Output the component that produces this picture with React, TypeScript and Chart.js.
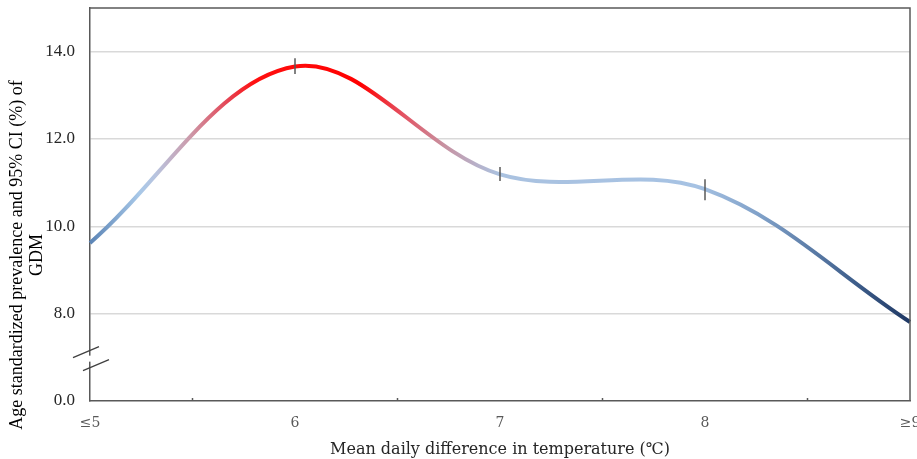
import React, { useEffect, useRef } from 'react';
import { Chart, registerables } from 'chart.js';

Chart.register(...registerables);

// ---- data ----
const categories = ['≤5', '6', '7', '8', '≥9'];
const prevalence = [9.62, 13.66, 11.19, 10.85, 7.81];
const ciLower: (number | null)[] = [null, 13.49, 11.04, 10.6, null];
const ciUpper: (number | null)[] = [null, 13.85, 11.36, 11.08, null];
// The y axis is broken: the bottom tick (internal value 6) is shown as 0.0
const yTickValues = [6, 8, 10, 12, 14];
const yTickLabels = ['0.0', '8.0', '10.0', '12.0', '14.0'];
const yMin = 6;
const yMax = 15;
const breakValue = 6.97;
const midTickValues = [0.5, 1.5, 2.5, 3.5];
const yTitleLines = ['Age standardized prevalence and 95% CI (%) of', 'GDM'];
const xTitle = 'Mean daily difference in temperature (℃)';

// ---- style ----
const gradientStops: [number, string][] = [
  [0, '#5b84b5'],
  [0.06, '#a8c8e8'],
  [0.08, '#b8c4df'],
  [0.122, '#cc9aaa'],
  [0.17, '#e64050'],
  [0.2, '#ff1010'],
  [0.33, '#ff0000'],
  [0.38, '#e45060'],
  [0.43, '#c8909f'],
  [0.47, '#b8b0c8'],
  [0.5, '#aac2e0'],
  [0.74, '#a6c2e3'],
  [0.82, '#7e9fc7'],
  [0.93, '#3f5f8c'],
  [1, '#1f3864'],
];
const axisColor = '#595959';
const serif = "'Liberation Serif', 'Times New Roman', serif";
const wideSerif = "'DejaVu Serif', serif";

const decorPlugin = {
  id: 'decor',
  afterDatasetsDraw(chart: any) {
    const { ctx, scales } = chart;
    const x = scales.x;
    const y = scales.y;
    ctx.save();
    ctx.strokeStyle = axisColor;
    ctx.lineWidth = 1.5;
    ciLower.forEach((lo, i) => {
      const hi = ciUpper[i];
      if (lo == null || hi == null) return;
      const px = x.getPixelForValue(i);
      ctx.beginPath();
      ctx.moveTo(px, y.getPixelForValue(lo));
      ctx.lineTo(px, y.getPixelForValue(hi));
      ctx.stroke();
    });
    ctx.restore();
  },
  afterDraw(chart: any) {
    const { ctx, chartArea, scales } = chart;
    const x = scales.x;
    const y = scales.y;
    ctx.save();
    ctx.strokeStyle = axisColor;
    ctx.lineWidth = 1.5;
    // top and right border
    ctx.beginPath();
    ctx.moveTo(chartArea.left, chartArea.top);
    ctx.lineTo(chartArea.right, chartArea.top);
    ctx.lineTo(chartArea.right, chartArea.bottom);
    ctx.stroke();
    // small inward ticks between categories
    midTickValues.forEach((v) => {
      const px = x.getPixelForValue(v);
      ctx.beginPath();
      ctx.moveTo(px, chartArea.bottom);
      ctx.lineTo(px, chartArea.bottom - 3);
      ctx.stroke();
    });
    // axis break
    const by = y.getPixelForValue(breakValue);
    const ax = chartArea.left;
    ctx.fillStyle = '#ffffff';
    ctx.fillRect(ax - 3, by - 3, 6, 6);
    ctx.strokeStyle = '#404040';
    ctx.lineWidth = 1.3;
    ctx.beginPath();
    ctx.moveTo(ax - 17, by - 1);
    ctx.lineTo(ax + 9, by - 12);
    ctx.moveTo(ax - 7, by + 12);
    ctx.lineTo(ax + 19, by + 1);
    ctx.stroke();
    // y axis title (two centred lines, rotated)
    ctx.fillStyle = '#000000';
    ctx.font = `18px ${serif}`;
    ctx.textAlign = 'center';
    ctx.textBaseline = 'middle';
    ctx.translate(27, 255);
    ctx.rotate(-Math.PI / 2);
    yTitleLines.forEach((line, i) => {
      ctx.fillText(line, 0, (i - (yTitleLines.length - 1) / 2) * 20);
    });
    ctx.restore();
  },
};

export default function App() {
  const canvasRef = useRef<HTMLCanvasElement | null>(null);

  useEffect(() => {
    const canvas = canvasRef.current;
    if (!canvas) return;
    const chart = new Chart(canvas, {
      type: 'line',
      data: {
        labels: categories,
        datasets: [
          {
            data: prevalence,
            borderWidth: 4,
            pointRadius: 0,
            tension: 0.35,
            fill: false,
            borderColor: (c: any) => {
              const area = c.chart.chartArea;
              if (!area) return '#a9c5e6';
              const g = c.chart.ctx.createLinearGradient(area.left, 0, area.right, 0);
              gradientStops.forEach(([o, col]) => g.addColorStop(o, col));
              return g;
            },
          },
        ],
      },
      options: {
        responsive: false,
        animation: false,
        devicePixelRatio: 1,
        layout: { autoPadding: false, padding: { top: 8, right: 7, left: 0, bottom: 0 } },
        plugins: { legend: { display: false }, tooltip: { enabled: false } },
        scales: {
          x: {
            type: 'category',
            offset: false,
            grid: { display: false, drawTicks: false },
            border: { display: true, color: axisColor, width: 1.5 },
            ticks: {
              autoSkip: false,
              maxRotation: 0,
              padding: 14,
              color: axisColor,
              font: { family: wideSerif, size: 14 },
            },
            title: {
              display: true,
              text: xTitle,
              color: '#262626',
              font: { family: wideSerif, size: 16 },
              padding: { top: 0, bottom: 0 },
            },
            afterFit: (s: any) => {
              s.height = 58;
              s.paddingLeft = 0;
              s.paddingRight = 0;
            },
          },
          y: {
            min: yMin,
            max: yMax,
            afterBuildTicks: (s: any) => {
              s.ticks = yTickValues.map((v) => ({ value: v }));
            },
            grid: {
              drawTicks: false,
              color: (c: any) => (c.tick && c.tick.value === yMin ? 'rgba(0,0,0,0)' : '#d9d9d9'),
              lineWidth: 1.5,
            },
            border: { display: true, color: axisColor, width: 1.5 },
            ticks: {
              padding: 15,
              color: '#262626',
              font: { family: serif, size: 17 },
              callback: (v: any) => {
                const i = yTickValues.indexOf(Number(v));
                return i >= 0 ? yTickLabels[i] : '';
              },
            },
            title: { display: false },
            afterFit: (s: any) => {
              s.width = 90;
              s.paddingTop = 0;
              s.paddingBottom = 0;
            },
          },
        },
      } as any,
      plugins: [decorPlugin],
    });
    return () => chart.destroy();
  }, []);

  return (
    <div style={{ position: 'absolute', left: 0, top: 0, width: 917, height: 459, background: '#fff' }}>
      <canvas ref={canvasRef} width={917} height={459} style={{ display: 'block' }} />
    </div>
  );
}
